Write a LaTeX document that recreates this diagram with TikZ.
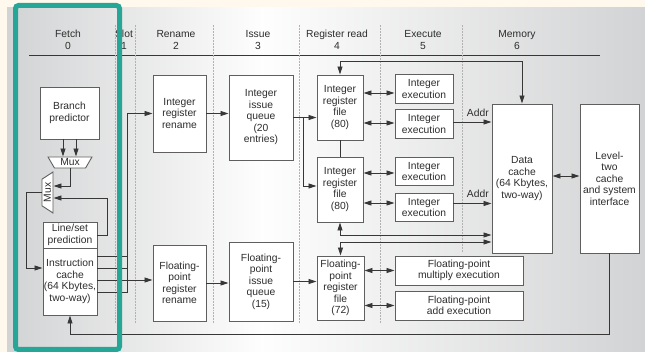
\documentclass[tikz,border=0pt]{standalone}
\usepackage{fontspec}
\setmainfont{Liberation Sans}
\usetikzlibrary{shapes.geometric,arrows.meta,calc}
\definecolor{tealframe}{RGB}{38,166,150}
\definecolor{creambg}{RGB}{255,249,237}
\definecolor{panelgray}{RGB}{210,211,212}
\definecolor{boxline}{RGB}{95,95,95}
\definecolor{wiregray}{RGB}{55,55,55}
\definecolor{labeltext}{RGB}{45,45,45}

\begin{document}
\begin{tikzpicture}[x=1pt, y=-1pt,
    unit/.style={draw=boxline, fill=white, line width=0.9pt, align=center, inner sep=0pt,
      text=labeltext, font=\fontsize{10.3}{11.5}\selectfont},
    mux/.style={trapezium, trapezium stretches=true, draw=boxline, fill=white, line width=0.9pt,
      inner sep=0pt, text=labeltext, font=\fontsize{10.3}{11.5}\selectfont},
    stage/.style={align=center, text=labeltext, font=\fontsize{10.3}{12}\selectfont},
    wire/.style={draw=wiregray, line width=0.8pt},
    >={Triangle[length=8pt,width=5pt]}]
    % Background and shaded panel
    \useasboundingbox[fill=creambg] (0,0) rectangle (645,352);
    \shade[left color=panelgray, right color=white!97!panelgray] (7,7.5) rectangle (262,352);
    \shade[left color=white!97!panelgray, right color=panelgray] (262,7.5) rectangle (645,352);
    % Pipeline stages
    \node[stage] (fetch) at (68,40) {Fetch\\0};
    \node[stage] (slot) at (124,40) {Slot\\1};
    \node[stage] (rename) at (176,40) {Rename\\2};
    \node[stage] (issue) at (258,40) {Issue\\3};
    \node[stage] (regread) at (337,40) {Register read\\4};
    \node[stage] (execute) at (423,40) {Execute\\5};
    \node[stage] (memory) at (517,40) {Memory\\6};
    \draw[wire] (29,55) -- (600,55);
    \foreach \x/\yb in {115/323,135/323,213/323,299/323,380/323,462/252}
        \draw[gray!60, densely dotted, line width=0.5pt] (\x,25) -- (\x,\yb);
    % Fetch units
    \node[unit, minimum width=59, minimum height=52] (bp) at (69.5,113) {Branch\\predictor};
    \node[mux, minimum width=44, minimum height=11, trapezium angle=119] (muxa) at (70,162.5) {Mux};
    \node[mux, rotate=90, minimum width=41, minimum height=11, trapezium angle=54] (muxb) at (47.5,192.5) {Mux};
    \node[unit, minimum width=54, minimum height=26] (lsp) at (70,235) {Line/set\\prediction};
    \node[unit, minimum width=54, minimum height=67] (icache) at (70,281.5) {Instruction\\cache\\(64 Kbytes,\\two-way)};
    % Rename and issue
    \node[unit, minimum width=53, minimum height=77] (irr) at (179.5,113.5) {Integer\\register\\rename};
    \node[unit, minimum width=53, minimum height=76] (fprr) at (179.5,283) {Floating-\\point\\register\\rename};
    \node[unit, minimum width=64, minimum height=85] (iiq) at (261,117.5) {Integer\\issue\\queue\\(20\\entries)};
    \node[unit, minimum width=64, minimum height=79] (fpiq) at (261,281.5) {Floating-\\point\\issue\\queue\\(15)};
    % Register files
    \node[unit, minimum width=46, minimum height=65] (irfa) at (340,107.5) {Integer\\register\\file\\(80)};
    \node[unit, minimum width=46, minimum height=65] (irfb) at (340,189.5) {Integer\\register\\file\\(80)};
    \node[unit, minimum width=47, minimum height=64] (fprf) at (340.5,288) {Floating-\\point\\register\\file\\(72)};
    % Execution units
    \foreach \n/\y in {a/89, b/124, c/171.5, d/207.5}
        \node[unit, minimum width=58, minimum height=28.5] (ie\n) at (424,\y) {Integer\\execution};
    \node[unit, minimum width=128, minimum height=29] (fpm) at (459,270.5) {Floating-point\\multiply execution};
    \node[unit, minimum width=128, minimum height=29] (fpa) at (459,305.5) {Floating-point\\add execution};
    % Memory
    \node[unit, minimum width=60, minimum height=149] (dc) at (522,178.5) {Data\\cache\\(64 Kbytes,\\two-way)};
    \node[unit, minimum width=59, minimum height=149] (ltwo) at (609.5,178.5) {Level-\\two\\cache\\and system\\interface};
    % Fetch wiring
    \coordinate (bus) at (127,0);
    \draw[wire,->] ([xshift=-6.5pt]bp.south) -- ([xshift=-6.5pt]bp.south |- muxa.north);
    \draw[wire,->] ([xshift=6.5pt]bp.south) -- ([xshift=6.5pt]bp.south |- muxa.north);
    \draw[wire,->] (muxa.south) |- ([yshift=6.5pt]muxb.south);
    \draw[wire,->] (lsp.east) -- ++(10,0) |- ([yshift=-5.5pt]muxb.south);
    \draw[wire,->] (muxb.north) -- ++(-15,0) |- ([yshift=13.5pt]icache.west);
    \foreach \n/\dy in {a/25.5, b/13.5, c/1.5, d/-10.5}
        \coordinate (ic\n) at ([yshift=\dy pt]icache.east);
    \draw[wire,->] (ica) -| (bus |- irr.west) -- (irr.west);
    \draw[wire] (icb) -- (icb -| bus);
    \draw[wire] (icd) -| (bus |- ica);
    \draw[wire,->] (icc) -- (icc -| fprr.west);
    % Rename, issue, register read
    \draw[wire,->] (irr.east) -- (irr.east -| iiq.west);
    \draw[wire,->] (fprr.east) -- (fprr.east -| fpiq.west);
    \draw[wire,->] (iiq.east) -- (iiq.east -| irfa.west);
    \draw[wire,->] (iiq.east) -- ++(10,0) |- ([yshift=3.5pt]irfb.west);
    \draw[wire,->] (fpiq.east) -- (fpiq.east -| fprf.west);
    \draw[wire] (irfa.south) -- (irfb.north);
    % Register files to execution
    \draw[wire,<->] ([yshift=14.5pt]irfa.east) -- ([yshift=14.5pt]irfa.east -| iea.west);
    \draw[wire,<->] ([yshift=-15.5pt]irfa.east) -- ([yshift=-15.5pt]irfa.east -| ieb.west);
    \draw[wire,<->] ([yshift=16.5pt]irfb.east) -- ([yshift=16.5pt]irfb.east -| iec.west);
    \draw[wire,<->] ([yshift=-13.5pt]irfb.east) -- ([yshift=-13.5pt]irfb.east -| ied.west);
    \draw[wire,<->] (fpm.west -| fprf.east) -- (fpm.west);
    \draw[wire,<->] (fpa.west -| fprf.east) -- (fpa.west);
    % Data cache paths
    \draw[wire,->] ([yshift=2pt]ieb.east) -- ([yshift=2pt]ieb.east -| dc.west)
        node[pos=0.64, above=2pt, stage] {Addr};
    \draw[wire,->] ([yshift=4pt]ied.east) -- ([yshift=4pt]ied.east -| dc.west)
        node[pos=0.64, above=2pt, stage] {Addr};
    \draw[wire,<->] (irfa.north) -- ++(0,-13) -| (dc.north);
    \draw[wire,<->] (irfb.south) |- ([yshift=-56.5pt]dc.west);
    \draw[wire,<->] (fprf.north) |- ([yshift=-63.5pt]dc.west);
    \draw[wire,<->] ([yshift=2.5pt]dc.east) -- ([yshift=2.5pt]dc.east -| ltwo.west);
    \draw[wire,->] (ltwo.south) -- ++(0,81) -| (icache.south);
    % Highlight of the fetch stage
    \draw[tealframe, line width=5pt, rounded corners=3pt] (15.5,5.5) rectangle (119.5,349.5);
\end{tikzpicture}
\end{document}
